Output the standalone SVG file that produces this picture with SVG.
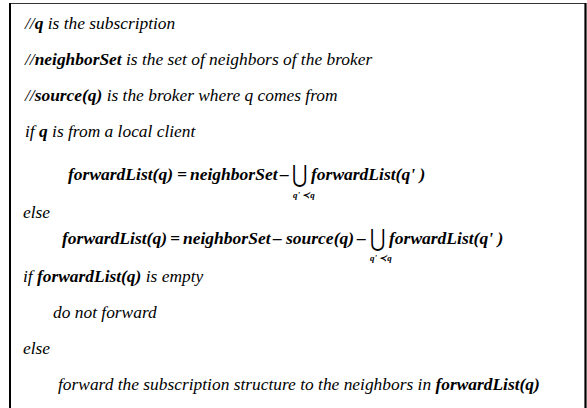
<svg xmlns="http://www.w3.org/2000/svg" width="587" height="408" viewBox="0 0 587 408">
  <style>
    .t { font-size: 17.4px; font-style: italic; }
    .f { font-size: 17.5px; font-style: italic; font-weight: bold; }
    .b { font-weight: bold; }
    .sub { font-size: 9px; font-style: italic; font-weight: bold; }
    .u { font-size: 24px; font-style: normal; }
  </style>
  <rect width="587" height="408" fill="#fff"/>
  <!-- frame -->
  <g id="frame">
    <line x1="10" y1="3.5" x2="586" y2="3.5" stroke="#333" stroke-width="1.2"/>
    <line x1="10" y1="3" x2="10" y2="408" stroke="#000" stroke-width="2"/>
    <line x1="585.5" y1="3" x2="585.5" y2="408" stroke="#000" stroke-width="2.2"/>
  </g>
  <g fill="#000">
    <g id="comments">
      <text class="t" font-family="'Liberation Serif', serif" x="25" y="29">//<tspan class="b">q</tspan> is the subscription</text>
      <text class="t" font-family="'Liberation Serif', serif" x="25" y="65">//<tspan class="b">neighborSet</tspan> is the set of neighbors of the broker</text>
      <text class="t" font-family="'Liberation Serif', serif" x="25" y="101">//<tspan class="b">source(q)</tspan> is the broker where q comes from</text>
    </g>
    <g id="rule-local">
      <text class="t" font-family="'Liberation Serif', serif" x="25" y="137">if <tspan class="b">q</tspan> is from a local client</text>
      <text class="f" font-family="'Liberation Serif', serif" y="180"><tspan x="68">forwardList(q)</tspan><tspan x="177">=</tspan><tspan x="190">neighborSet</tspan><tspan x="280">–</tspan></text>
      <text class="u" font-family="'DejaVu Serif', serif" transform="translate(292,182) scale(0.78,1)">⋃</text>
      <text class="f" font-family="'Liberation Serif', serif" x="311" y="180">forwardList(q' )</text>
      <text class="sub" font-family="'Liberation Serif', serif" x="293" y="198">q' ≺q</text>
    </g>
    <g id="rule-remote">
      <text class="t" font-family="'Liberation Serif', serif" x="23" y="218">else</text>
      <text class="f" font-family="'Liberation Serif', serif" y="244"><tspan x="62">forwardList(q)</tspan><tspan x="170">=</tspan><tspan x="183">neighborSet</tspan><tspan x="273">–</tspan><tspan x="286">source(q)</tspan><tspan x="357">–</tspan></text>
      <text class="u" font-family="'DejaVu Serif', serif" transform="translate(370,246) scale(0.78,1)">⋃</text>
      <text class="f" font-family="'Liberation Serif', serif" x="389" y="244">forwardList(q' )</text>
      <text class="sub" font-family="'Liberation Serif', serif" x="370" y="261">q' ≺q</text>
    </g>
    <g id="decision">
      <text class="t" font-family="'Liberation Serif', serif" x="23" y="282">if <tspan class="b">forwardList(q)</tspan> is empty</text>
      <text class="t" font-family="'Liberation Serif', serif" x="53" y="318">do not forward</text>
      <text class="t" font-family="'Liberation Serif', serif" x="23" y="354">else</text>
      <text class="t" font-family="'Liberation Serif', serif" x="58" y="390">forward the subscription structure to the neighbors in <tspan class="b">forwardList(q)</tspan></text>
    </g>
  </g>
</svg>
